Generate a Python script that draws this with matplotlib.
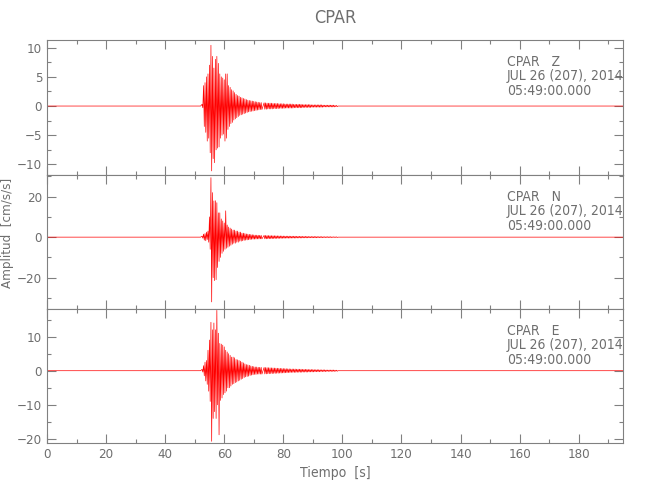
import numpy as np
import matplotlib.pyplot as plt
from matplotlib.ticker import MultipleLocator

STATION = "CPAR"
DATE_TXT = "JUL 26 (207), 2014"
TIME_TXT = "05:49:00.000"
COMPONENTS = ["Z", "N", "E"]

T_END = 195.0          # largo del registro [s]
BURST_T0 = 52.5        # inicio de la fase fuerte [s]
BURST_DT = 0.5         # ancho de cada ventana max/min (fase fuerte)
CODA_DT = 1.0          # ancho de cada ventana en la coda

z_max = [0.3, 3.5, 4.0, 5.0, 5.5, 7.0, 10.4, 8.5, 6.5, 8.0, 8.5, 7.3, 5.5, 5.0,
         4.8, 4.5, 5.5, 5.5, 3.5, 3.2, 2.8, 2.6, 2.3, 2.0, 1.8, 1.7, 1.5, 1.4,
         1.3, 1.2, 1.1, 1.0, 0.95, 0.9, 0.85, 0.8, 0.75, 0.7, 0.65, 0.6, 0.6]
z_min = [-0.3, -3.5, -4.5, -6.0, -5.5, -8.0, -11.1, -9.0, -9.7, -7.5, -7.2,
         -7.0, -5.5, -5.0, -4.8, -6.0, -5.5, -4.0, -3.5, -3.0, -2.8, -2.4,
         -2.2, -2.0, -1.8, -1.6, -1.5, -1.4, -1.3, -1.2, -1.1, -1.0, -0.95,
         -0.9, -0.85, -0.8, -0.75, -0.7, -0.65, -0.6, -0.6]
z_coda = [0.55, 0.5, 0.5, 0.45, 0.45, 0.4, 0.4, 0.35, 0.35, 0.35, 0.3, 0.3,
          0.3, 0.25, 0.25, 0.25, 0.2, 0.2, 0.2, 0.2, 0.15, 0.15, 0.15, 0.15,
          0.1]

n_max = [0.5, 1.5, 1.8, 2.5, 3.0, 10.0, 29.4, 22.0, 17.9, 18.0, 17.0, 12.0,
         12.0, 9.0, 8.0, 7.0, 13.0, 6.0, 5.0, 4.5, 4.0, 3.5, 3.5, 3.0, 3.0,
         2.5, 2.5, 2.0, 2.0, 1.8, 1.6, 1.5, 1.4, 1.3, 1.2, 1.1, 1.0, 1.0,
         0.95, 0.9, 0.9]
n_min = [-0.5, -1.5, -1.8, -1.2, -2.5, -6.0, -32.0, -20.0, -21.5, -21.0,
         -15.0, -12.0, -10.0, -8.0, -7.0, -6.0, -5.5, -5.0, -4.5, -4.0, -3.5,
         -3.0, -3.0, -2.5, -2.5, -2.0, -2.0, -1.8, -1.6, -1.5, -1.4, -1.3,
         -1.2, -1.1, -1.0, -1.0, -0.95, -0.9, -0.9, -0.85, -0.85]
n_coda = [0.85, 0.8, 0.75, 0.7, 0.65, 0.6, 0.55, 0.5, 0.5, 0.45, 0.45, 0.4,
          0.4, 0.35, 0.35, 0.3, 0.3, 0.3, 0.25, 0.25, 0.2, 0.2, 0.2, 0.15,
          0.15]

e_max = [0.4, 1.5, 2.5, 3.0, 6.0, 9.0, 14.2, 12.0, 14.0, 12.0, 17.7, 11.0,
         8.0, 7.8, 7.5, 7.0, 6.0, 5.5, 5.0, 4.5, 4.0, 4.0, 3.8, 3.3, 3.2, 3.0,
         2.8, 2.5, 2.3, 2.0, 1.8, 1.7, 1.6, 1.4, 1.3, 1.2, 1.1, 1.1, 1.0, 1.0,
         1.0]
e_min = [-0.4, -1.5, -3.0, -4.0, -6.0, -9.0, -20.7, -14.0, -12.0, -14.0,
         -10.0, -18.8, -8.7, -8.0, -7.0, -6.5, -6.0, -5.0, -5.0, -4.5, -4.0,
         -3.8, -3.5, -3.3, -3.0, -2.8, -2.5, -2.3, -2.0, -1.8, -1.7, -1.6,
         -1.4, -1.3, -1.2, -1.1, -1.1, -1.0, -1.0, -1.0, -1.0]
e_coda = [0.95, 0.9, 0.85, 0.8, 0.75, 0.7, 0.65, 0.6, 0.55, 0.5, 0.5, 0.45,
          0.45, 0.4, 0.4, 0.35, 0.35, 0.3, 0.3, 0.25, 0.25, 0.2, 0.2, 0.2,
          0.15]

MAXS = [z_max, n_max, e_max]
MINS = [z_min, n_min, e_min]
CODAS = [z_coda, n_coda, e_coda]

Y_LIMS = [(-11.8, 11.3), (-35.5, 30.7), (-21.2, 18.1)]
Y_MAJOR = [5, 20, 10]
Y_MINOR = [2.5, 10, 5]

GRAY = "#808080"
TXT = "#6e6e6e"
plt.rcParams["font.family"] = ["DejaVu Sans"]
plt.rcParams["font.stretch"] = "condensed"


def build_trace(vmax, vmin, coda):
    vmax = np.asarray(vmax, dtype=float)
    vmin = np.asarray(vmin, dtype=float)
    coda = np.asarray(coda, dtype=float)
    tb = BURST_T0 + BURST_DT * np.arange(len(vmax))
    tc = tb[-1] + CODA_DT * np.arange(1, len(coda) + 1)
    # cada ventana: sube al max y baja al min (como un display min/max)
    t_b = np.column_stack([tb, tb + BURST_DT / 2]).ravel()
    y_b = np.column_stack([vmax, vmin]).ravel()
    # en la coda cada ventana se recorre dos veces (+a, -a, +a, -a)
    q = CODA_DT / 4
    t_c = np.column_stack([tc, tc + q, tc + 2 * q, tc + 3 * q]).ravel()
    y_c = np.column_stack([coda, -coda, coda, -coda]).ravel()
    t = np.concatenate([[0.0, BURST_T0 - BURST_DT], t_b, t_c, [tc[-1] + CODA_DT, T_END]])
    y = np.concatenate([[0.0, 0.0], y_b, y_c, [0.0, 0.0]])
    return t, y


fig = plt.figure(figsize=(6.5, 5), dpi=100)

left, width = 47 / 650, 576 / 650
panels = [(40, 175), (175, 309), (309, 443)]

axes = []
for i, (top, bot) in enumerate(panels):
    ax = fig.add_axes([left, 1 - bot / 500, width, (bot - top) / 500])
    t, y = build_trace(MAXS[i], MINS[i], CODAS[i])
    ax.plot(t, y, color="red", lw=0.5)

    ax.set_xlim(0, T_END)
    ax.set_ylim(*Y_LIMS[i])
    ax.xaxis.set_major_locator(MultipleLocator(20))
    ax.xaxis.set_minor_locator(MultipleLocator(10))
    ax.yaxis.set_major_locator(MultipleLocator(Y_MAJOR[i]))
    ax.yaxis.set_minor_locator(MultipleLocator(Y_MINOR[i]))
    ax.tick_params(which="both", direction="in", top=True, right=True,
                   colors=GRAY, labelcolor=TXT, labelsize=9.5, width=0.8)
    ax.tick_params(which="major", length=6.5)
    ax.tick_params(which="minor", length=3)
    for s in ax.spines.values():
        s.set_color(GRAY)
        s.set_linewidth(0.8)
    if i < 2:
        ax.tick_params(labelbottom=False)

    ax.text(0.798, 0.89, f"{STATION}   {COMPONENTS[i]}\n{DATE_TXT}\n{TIME_TXT}",
            transform=ax.transAxes, ha="left", va="top", color=TXT,
            fontsize=10, linespacing=1.05)
    axes.append(ax)

axes[0].set_title(STATION, color=TXT, fontsize=13, pad=12)
axes[1].set_ylabel("Amplitud  [cm/s/s]", color=TXT, fontsize=9.5)
axes[1].yaxis.set_label_coords(-33 / 576, 0.57)
axes[2].set_xlabel("Tiempo  [s]", color=TXT, fontsize=10, labelpad=4)

fig.savefig("out.png", dpi=100, facecolor="white")
